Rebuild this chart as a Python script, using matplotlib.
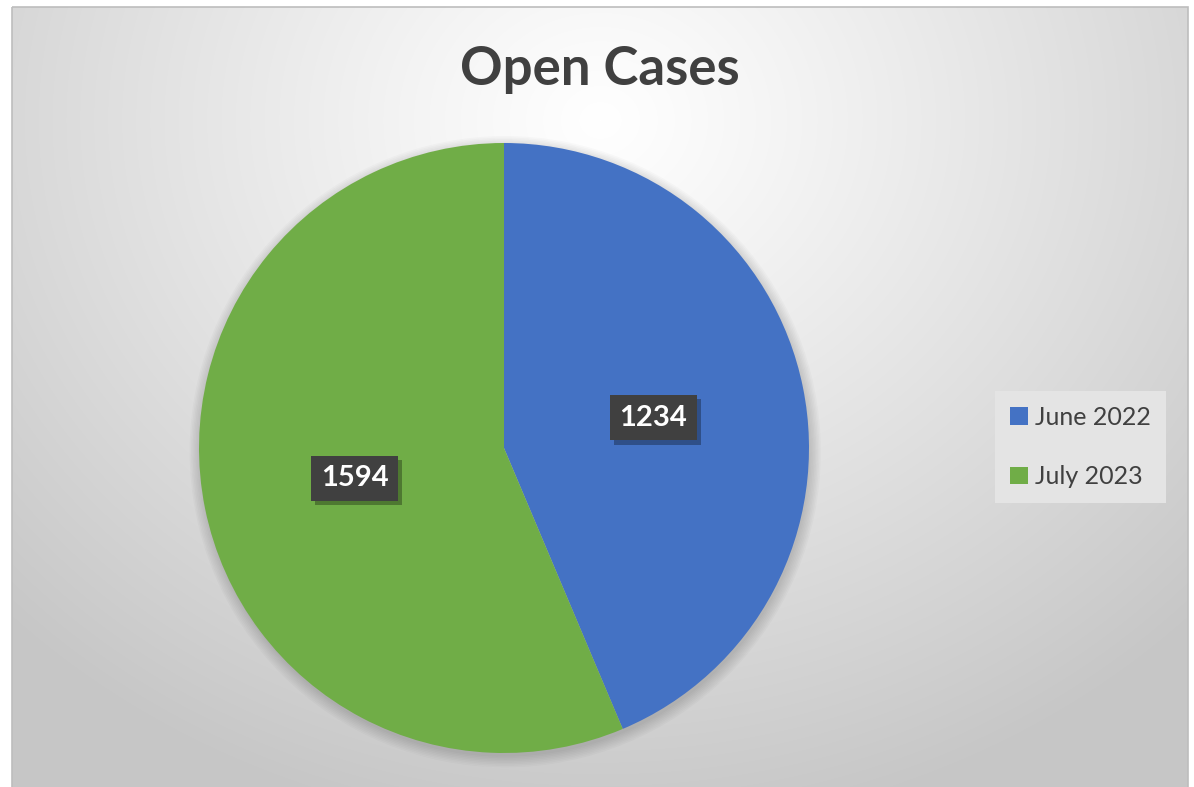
import numpy as np
import matplotlib.pyplot as plt
import matplotlib.patheffects as pe
from matplotlib.patches import Rectangle, Circle

plt.rcParams['font.family'] = ['Lato', 'DejaVu Sans']

title = 'Open Cases'
labels = ['June 2022', 'July 2023']
values = [1234, 1594]
colors = ['#4472c4', '#70ad47']

W, H = 1194, 787
fig = plt.figure(figsize=(W / 100, H / 100), dpi=100)
fig.patch.set_facecolor('white')

# background panel with a soft radial gradient (white near the title, grey at the edges)
bg = fig.add_axes([0, 0, 1, 1])
bg.set_xlim(0, W)
bg.set_ylim(H, 0)
bg.axis('off')
x0, x1, y0, y1 = 12, 1188, 7, 787
yy, xx = np.mgrid[y0:y1, x0:x1]
d = np.hypot(xx - 600, (yy - 120) * 1.15)
v = 1 - 0.22 * np.clip(d / 820, 0, 1) ** 1.1
bg.imshow(np.dstack([v, v, v]), extent=(x0, x1, y1, y0), aspect='auto', interpolation='bilinear')
bg.add_patch(Rectangle((x0, y0), x1 - x0, y1 - y0 + 5, fill=False, ec='#bdbdbd', lw=1.2))

# pie
cx, cy, r = 504, 448, 305
ax = fig.add_axes([(cx - r) / W, (H - cy - r) / H, 2 * r / W, 2 * r / H])
for i in range(8):
    ax.add_patch(Circle((0.004, -0.012), 1.0 + 0.005 * i, color='black', alpha=0.02,
                        lw=0, clip_on=False))
wedges, _ = ax.pie(values, colors=colors, startangle=90, counterclock=False, radius=1,
                   wedgeprops=dict(linewidth=0))
ax.set_xlim(-1, 1)
ax.set_ylim(-1, 1)
ax.set_aspect('auto')
ax.axis('off')

for w, val in zip(wedges, values):
    ang = np.deg2rad((w.theta1 + w.theta2) / 2)
    lx, ly = 0.5 * np.cos(ang), 0.5 * np.sin(ang)
    t = ax.text(lx, ly, str(val), fontsize=21, fontweight='bold', color='white',
                ha='center', va='center',
                bbox=dict(boxstyle='square,pad=0.33', fc='#404040', ec='none'))
    t.get_bbox_patch().set_path_effects([
        pe.SimplePatchShadow(offset=(3, -3), shadow_rgbFace='black', alpha=0.3),
        pe.Normal()])

fig.text(600 / W, 1 - 70 / H, title, fontsize=38, fontweight='bold', color='#404040',
         ha='center', va='center')

handles = [Rectangle((0, 0), 1, 1, fc=c, ec='none') for c in colors]
leg = fig.legend(handles, labels, loc='center left', bbox_to_anchor=(995 / W, 1 - 447 / H),
                 frameon=True, facecolor='#e4e4e4', edgecolor='none', framealpha=1,
                 fancybox=False, fontsize=18, labelcolor='#404040',
                 handlelength=0.7, handleheight=0.7, handletextpad=0.3,
                 labelspacing=1.45, borderpad=0.6, borderaxespad=0)

fig.savefig('out.png', dpi=100)
